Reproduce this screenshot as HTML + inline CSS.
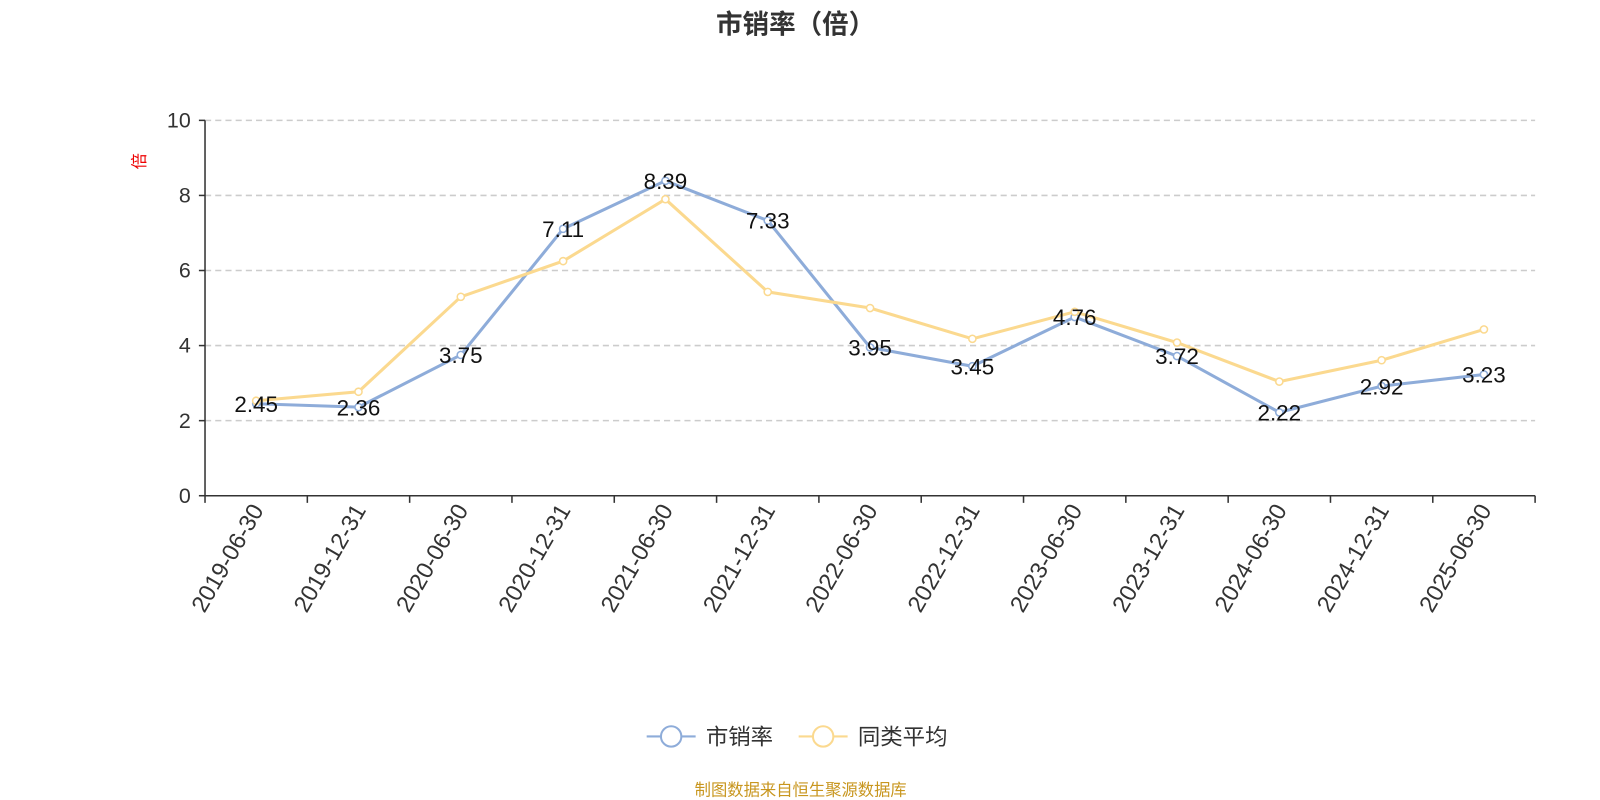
<!DOCTYPE html>
<html><head><meta charset="utf-8">
<style>
body{margin:0;background:#fff;}
svg{display:block;font-family:"Liberation Sans","Noto Sans CJK SC",sans-serif;}
</style></head>
<body>
<svg id="chart" width="1600" height="800" xmlns="http://www.w3.org/2000/svg">
<g transform="scale(1.02)">
<text x="780" y="33" text-anchor="middle" font-size="26" font-weight="bold" fill="#333">市销率（倍）</text>
<text x="142" y="158" font-size="16" fill="#e00" text-anchor="middle" transform="rotate(-90 142 158)">倍</text>
<g id="grid"></g><g id="axes"></g><g id="series"></g>
<g>
<g>
<line x1="634" y1="722" x2="682" y2="722" stroke="#8eacd9" stroke-width="2"/>
<circle cx="658" cy="722" r="10" fill="#fff" stroke="#8eacd9" stroke-width="2"/>
<text x="692" y="730" font-size="22" fill="#333">市销率</text></g>
<g>
<line x1="783" y1="722" x2="831" y2="722" stroke="#fbd98f" stroke-width="2"/>
<circle cx="807" cy="722" r="10" fill="#fff" stroke="#fbd98f" stroke-width="2"/>
<text x="841" y="730" font-size="22" fill="#333">同类平均</text></g>
</g>
<text x="785" y="780" text-anchor="middle" font-size="16" fill="#c8961e">制图数据来自恒生聚源数据库</text>
</g>
</svg>
<script>
const categories=["2019-06-30","2019-12-31","2020-06-30","2020-12-31","2021-06-30","2021-12-31","2022-06-30","2022-12-31","2023-06-30","2023-12-31","2024-06-30","2024-12-31","2025-06-30"];
const psValues=[2.45,2.36,3.75,7.11,8.39,7.33,3.95,3.45,4.76,3.72,2.22,2.92,3.23];
const avgValues=[2.53,2.77,5.3,6.25,7.9,5.43,5.0,4.18,4.9,4.08,3.04,3.61,4.43];
const yTicks=[0,2,4,6,8,10];
const NS="http://www.w3.org/2000/svg";
const L=201,R=1505,T=118,B=486,yMax=10;
const bw=(R-L)/categories.length;
const xs=i=>L+bw*(i+0.5);
const ys=v=>B-(v/yMax)*(B-T);
function mk(tag,attrs,parent,text){const e=document.createElementNS(NS,tag);for(const k in attrs)e.setAttribute(k,attrs[k]);if(text!==undefined)e.textContent=text;parent.appendChild(e);return e;}
const grid=document.getElementById('grid'),axes=document.getElementById('axes'),series=document.getElementById('series');
yTicks.forEach(t=>{
 if(t>0){const g=mk('line',{x1:L,x2:R,y1:ys(t),y2:ys(t),stroke:'#ccc','stroke-dasharray':'6,4','stroke-width':1.5},grid);
 
 }
 const tl=mk('text',{x:L-14,y:ys(t)+7,'text-anchor':'end','font-size':21,fill:'#333'},axes,String(t));
 
 
 mk('line',{x1:L-6,x2:L,y1:ys(t),y2:ys(t),stroke:'#333','stroke-width':1.5},axes);
});
const ya=mk('line',{x1:L,x2:L,y1:T,y2:B,stroke:'#333','stroke-width':1.5},axes);


const xa=mk('line',{x1:L,x2:R,y1:B,y2:B,stroke:'#333','stroke-width':1.5},axes);


for(let i=0;i<=categories.length;i++){mk('line',{x1:L+bw*i,x2:L+bw*i,y1:B,y2:B+7,stroke:'#333','stroke-width':1.5},axes);}
categories.forEach((c,i)=>{
 const x=xs(i)+8,y=B+14;
 const t=mk('text',{x:x,y:y,'text-anchor':'end','font-size':23,fill:'#333',transform:`rotate(-60 ${x} ${y})`},axes,c);
 
 
});
function drawSeries(vals,color,name){
 const p=mk('polyline',{points:vals.map((v,i)=>xs(i)+','+ys(v)).join(' '),fill:'none',stroke:color,'stroke-width':3},series);
 
 
 vals.forEach((v,i)=>{
  const c=mk('circle',{cx:xs(i),cy:ys(v),r:3.5,fill:'#fff',stroke:color,'stroke-width':1.5},series);
  
  
 });
}
drawSeries(psValues,'#8eacd9','ps');
drawSeries(avgValues,'#fbd98f','peer-avg');
psValues.forEach((v,i)=>{
 const t=mk('text',{x:xs(i),y:ys(v)+8,'text-anchor':'middle','font-size':22,fill:'#111'},series,v.toFixed(2));
 
 
});
</script>
</body></html>
